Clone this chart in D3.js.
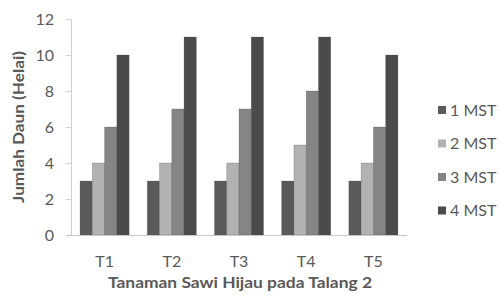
<!DOCTYPE html>
<html>
<head>
<meta charset="utf-8">
<script src="https://d3js.org/d3.v7.min.js"></script>
<style>
  body { margin: 0; background: #fff; }
  text { font-family: Lato, "Open Sans", sans-serif; fill: #595959; }
</style>
</head>
<body>
<svg id="chart"></svg>
<script>
  var categories = ['T1', 'T2', 'T3', 'T4', 'T5']
  var seriesNames = ['1 MST', '2 MST', '3 MST', '4 MST']
  var mst1 = [3, 3, 3, 3, 3]
  var mst2 = [4, 4, 4, 5, 4]
  var mst3 = [6, 7, 7, 8, 6]
  var mst4 = [10, 11, 11, 11, 10]
  var yTicks = [0, 2, 4, 6, 8, 10, 12]
  var colors = ['#5a5a5a', '#b2b2b2', '#858585', '#4b4b4b']

  var series = [mst1, mst2, mst3, mst4]
  var W = 500, H = 299
  var svg = d3.select('#chart').attr('width', W).attr('height', H)

  var x = d3.scaleBand().domain(categories).range([71, 407]).paddingInner(0.27).paddingOuter(0.135)
  var xs = d3.scaleBand().domain(seriesNames).range([0, x.bandwidth()])
  var y = d3.scaleLinear().domain([0, 12]).range([235, 19])

  // y axis
  var yAxis = svg.append('g').attr('transform', 'translate(71,0)')
    .call(d3.axisLeft(y).tickValues(yTicks).tickSize(5).tickPadding(12))
  yAxis.select('.domain').attr('stroke', '#d0d0d0')
  yAxis.selectAll('.tick line').attr('stroke', '#d0d0d0')
  yAxis.selectAll('text').style('font-size', '16px').attr('fill', '#595959')

  // bars
  var groups = svg.selectAll('g.grp').data(categories).enter().append('g')
    .attr('transform', function (d) {return 'translate(' + x(d) + ',0)'})
  groups.selectAll('rect').data(function (d, i) {
      return seriesNames.map(function (s, j) {return {s: s, v: series[j][i], j: j}})
    }).enter().append('rect')
    .attr('x', function (d) {return xs(d.s)})
    .attr('width', xs.bandwidth())
    .attr('y', function (d) {return y(d.v)})
    .attr('height', function (d) {return y(0) - y(d.v)})
    .attr('fill', function (d) {return colors[d.j]})
    .attr('stroke', '#3a3a3a').attr('stroke-opacity', 0.35).attr('stroke-width', 0.6)

  // x axis
  var xAxis = svg.append('g').attr('transform', 'translate(0,235)')
    .call(d3.axisBottom(x).tickSize(0).tickPadding(21))
  xAxis.select('.domain').attr('stroke', '#c8c8c8').attr('d', 'M66,0.5H407')
  xAxis.selectAll('text').style('font-size', '16px').attr('fill', '#595959')

  // titles
  svg.append('text').attr('x', 240).attr('y', 288).attr('text-anchor', 'middle')
    .attr('textLength', 264).attr('lengthAdjust', 'spacingAndGlyphs')
    .style('font-size', '16px').style('font-weight', 'bold').attr('fill', '#404040')
    .text('Tanaman Sawi Hijau pada Talang 2')
  svg.append('text').attr('transform', 'translate(24,127) rotate(-90)').attr('text-anchor', 'middle')
    .attr('textLength', 152).attr('lengthAdjust', 'spacingAndGlyphs')
    .style('font-size', '15px').style('font-weight', 'bold').attr('fill', '#404040')
    .text('Jumlah Daun (Helai)')

  // legend
  var leg = svg.selectAll('g.leg').data(seriesNames).enter().append('g')
    .attr('transform', function (d, i) {return 'translate(438,' + (110 + i * 33.5) + ')'})
  leg.append('rect').attr('x', 0).attr('y', -4).attr('width', 8).attr('height', 8)
    .attr('fill', function (d, i) {return colors[i]})
  leg.append('text').attr('x', 12).attr('y', 5.5).style('font-size', '16px').text(function (d) {return d})
</script>
</body>
</html>
